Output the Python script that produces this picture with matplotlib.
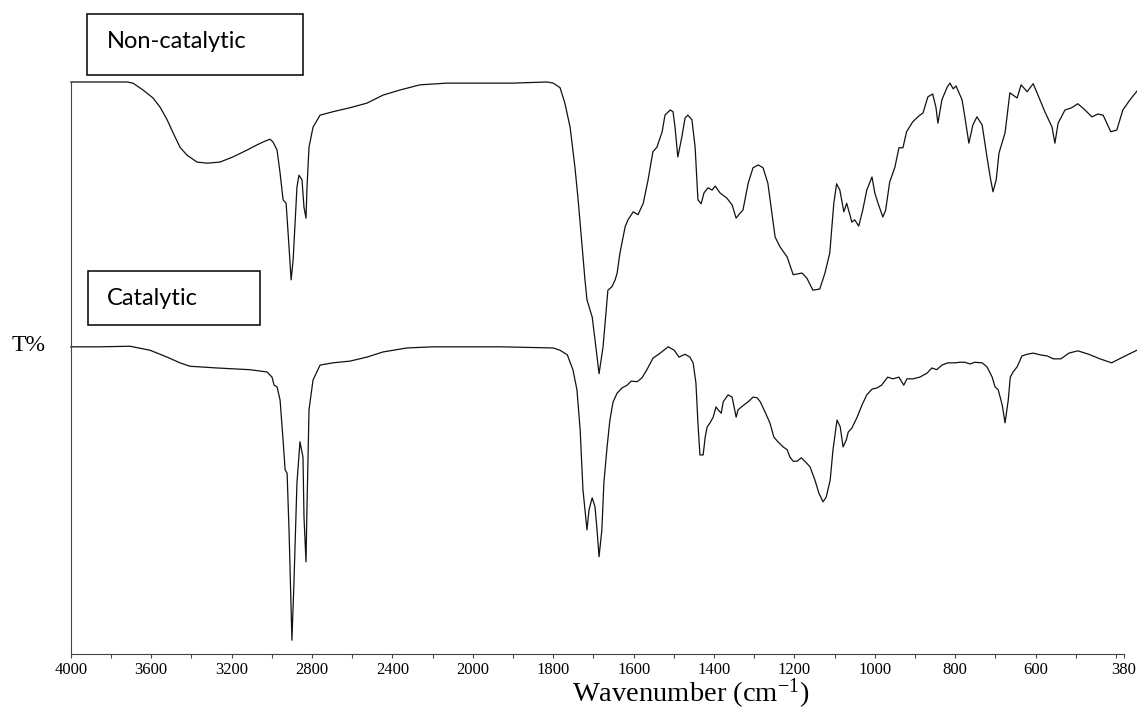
import numpy as np
import matplotlib
matplotlib.use('Agg')
import matplotlib.pyplot as plt
from matplotlib.patches import Rectangle

# FTIR spectra, transmittance in arbitrary % (axis has no y ticks)
noncat_wn = [4000, 3720, 3691, 3641, 3591, 3556, 3521, 3491, 3457, 3422, 3372, 3322, 3258, 3193,
             3123, 3074, 3044, 3009, 2994, 2974, 2959, 2944, 2929, 2919, 2904, 2894, 2875, 2865,
             2850, 2840, 2830, 2825, 2815, 2795, 2760, 2696, 2611, 2527, 2447, 2362, 2263, 2129,
             2015, 1900, 1815, 1800, 1783, 1771, 1758, 1746, 1738, 1728, 1721, 1716, 1703, 1696,
             1686, 1676, 1669, 1664, 1654, 1646, 1641, 1634, 1621, 1614, 1601, 1589, 1576, 1564,
             1552, 1542, 1529, 1522, 1509, 1502, 1497, 1490, 1480, 1472, 1465, 1455, 1447, 1440,
             1432, 1425, 1415, 1405, 1397, 1385, 1368, 1355, 1345, 1335, 1328, 1315, 1303, 1290,
             1278, 1266, 1248, 1236, 1218, 1203, 1181, 1169, 1154, 1137, 1124, 1112, 1102, 1095,
             1087, 1077, 1070, 1057, 1050, 1040, 1030, 1020, 1007, 1000, 992, 980, 973, 963,
             950, 940, 930, 921, 906, 893, 880, 868, 856, 848, 843, 833, 820, 813,
             805, 798, 783, 776, 766, 756, 746, 733, 721, 713, 706, 698, 691, 676,
             664, 646, 636, 621, 606, 594, 577, 559, 552, 544, 527, 510, 495, 477,
             460, 445, 432, 413, 398, 383, 365, 348]
noncat_t = [100.0, 100.0, 99.8, 98.6, 97.2, 95.6, 93.4, 91.1, 88.6, 87.2, 86.0, 85.8, 86.0, 86.9,
            88.1, 89.0, 89.5, 90.0, 89.5, 88.1, 84.1, 79.4, 78.8, 73.6, 65.4, 68.9, 81.6, 83.7,
            82.9, 78.1, 76.2, 81.6, 88.6, 92.1, 94.2, 94.8, 95.5, 96.3, 97.7, 98.6, 99.5, 99.8,
            99.8, 99.8, 100.0, 99.8, 99.0, 96.3, 92.1, 85.1, 79.4, 71.2, 65.4, 61.9, 58.9, 54.9,
            49.0, 53.7, 59.6, 63.6, 64.2, 65.4, 66.6, 70.1, 74.7, 75.9, 77.3, 76.8, 78.8, 82.9,
            87.8, 88.6, 91.3, 94.2, 95.1, 94.8, 92.1, 86.9, 90.4, 93.7, 94.2, 93.4, 88.6, 79.4,
            78.7, 80.6, 81.5, 81.1, 81.8, 80.6, 79.7, 78.5, 76.2, 77.1, 77.6, 82.3, 85.0, 85.5,
            85.0, 82.3, 72.9, 71.2, 69.4, 66.3, 66.6, 65.7, 63.6, 63.8, 66.6, 70.1, 78.8, 82.2,
            81.1, 77.3, 78.8, 75.5, 75.9, 74.8, 77.6, 81.1, 83.4, 80.6, 78.8, 76.4, 77.6, 82.5,
            85.1, 88.5, 88.5, 91.3, 93.0, 93.9, 94.6, 97.4, 97.9, 95.6, 92.8, 96.9, 99.1, 99.8,
            98.8, 99.3, 96.9, 93.9, 89.3, 92.5, 93.9, 92.5, 86.9, 83.4, 80.8, 82.9, 87.6, 91.1,
            98.1, 97.2, 99.5, 98.3, 99.7, 97.7, 94.8, 92.1, 89.3, 92.8, 95.1, 95.5, 96.2, 95.1,
            93.9, 94.4, 94.2, 91.3, 91.6, 95.1, 96.9, 98.4]

cat_wn = [4000, 3855, 3705, 3606, 3521, 3457, 3407, 3273, 3109, 3024, 2999, 2989, 2974, 2959,
          2944, 2934, 2924, 2914, 2900, 2890, 2875, 2860, 2845, 2840, 2830, 2825, 2815, 2795,
          2760, 2696, 2611, 2527, 2447, 2328, 2199, 2029, 1932, 1800, 1783, 1765, 1751, 1741,
          1733, 1726, 1716, 1711, 1703, 1696, 1691, 1686, 1679, 1674, 1666, 1659, 1651, 1641,
          1629, 1616, 1606, 1591, 1579, 1567, 1552, 1534, 1514, 1499, 1487, 1472, 1460, 1452,
          1445, 1440, 1435, 1427, 1422, 1417, 1410, 1402, 1395, 1390, 1382, 1377, 1365, 1355,
          1350, 1345, 1340, 1328, 1315, 1303, 1293, 1285, 1273, 1261, 1251, 1241, 1228, 1218,
          1211, 1203, 1193, 1183, 1174, 1161, 1149, 1139, 1129, 1121, 1111, 1104, 1094, 1086,
          1079, 1071, 1066, 1057, 1044, 1032, 1020, 1007, 995, 983, 968, 955, 940, 933,
          928, 920, 905, 888, 870, 858, 846, 833, 818, 801, 788, 776, 763, 751,
          733, 721, 708, 701, 693, 683, 676, 668, 663, 656, 646, 634, 621, 606,
          589, 571, 556, 537, 517, 495, 468, 440, 411, 383, 348]
cat_t = [53.7, 53.7, 53.8, 53.1, 51.9, 50.9, 50.3, 50.0, 49.7, 49.3, 48.4, 47.0, 46.7, 44.4,
         37.4, 32.2, 31.6, 21.2, 2.4, 12.4, 29.9, 37.1, 34.4, 24.0, 16.1, 25.7, 42.7, 47.9,
         50.5, 50.9, 51.2, 51.9, 52.8, 53.5, 53.7, 53.7, 53.7, 53.5, 53.1, 52.3, 49.7, 46.2,
         39.2, 28.7, 21.7, 25.2, 27.3, 25.7, 21.7, 17.0, 21.7, 29.9, 36.2, 40.9, 44.1, 45.6,
         46.5, 47.0, 47.7, 47.6, 48.3, 49.7, 51.7, 52.6, 53.7, 53.1, 51.9, 52.4, 51.9, 50.9,
         47.4, 40.4, 34.8, 34.8, 37.9, 39.7, 40.4, 41.4, 43.2, 42.7, 42.1, 44.1, 45.3, 44.9,
         43.2, 41.4, 42.7, 43.4, 44.1, 44.9, 44.8, 44.1, 42.3, 40.4, 37.9, 37.1, 36.2, 35.7,
         34.4, 33.7, 33.7, 34.3, 33.7, 32.7, 30.4, 28.1, 26.6, 27.4, 30.4, 35.7, 40.9, 39.7,
         36.2, 37.4, 38.8, 39.5, 41.4, 43.5, 45.3, 46.3, 46.5, 47.0, 48.4, 48.1, 48.4, 47.6,
         47.0, 48.1, 48.1, 48.4, 49.1, 50.0, 49.7, 50.5, 50.9, 50.9, 51.0, 51.0, 50.7, 51.0,
         50.9, 50.2, 48.4, 46.7, 46.2, 43.5, 40.4, 44.4, 48.4, 49.3, 50.2, 52.1, 52.4, 52.6,
         52.3, 52.1, 51.6, 51.6, 52.6, 53.0, 52.4, 51.6, 50.9, 51.9, 53.1]

major_ticks = [4000, 3600, 3200, 2800, 2400, 2000, 1800, 1600, 1400, 1200, 1000, 800, 600, 380]
minor_ticks = [3800, 3400, 3000, 2600, 2200, 1900, 1700, 1500, 1300, 1100, 900, 700, 500, 400]


def forward(w):
    # spectrometer axis: 4000-2000 drawn at half the scale of 2000-400
    w = np.asarray(w, dtype=float)
    return np.where(w >= 2000, (w - 2000) / 200, (w - 2000) / 100)


def inverse(p):
    p = np.asarray(p, dtype=float)
    return np.where(p >= 0, 2000 + 200 * p, 2000 + 100 * p)


plt.rcParams['mathtext.fontset'] = 'stix'
fig = plt.figure(figsize=(11.37, 7.11), dpi=100)
ax = fig.add_axes([0.0623, 0.0802, 0.9263, 0.8045])
ax.set_xscale('function', functions=(forward, inverse))

ax.plot(noncat_wn, noncat_t, color='#111111', lw=0.9, clip_on=False)
ax.plot(cat_wn, cat_t, color='#111111', lw=0.9, clip_on=False)

ax.set_xlim(4000, 380)
ax.set_ylim(0, 100)
ax.set_xticks(major_ticks)
ax.set_xticklabels([str(t) for t in major_ticks], family='Liberation Serif', fontsize=12)
ax.set_xticks(minor_ticks, minor=True)
ax.tick_params(axis='x', which='both', direction='out', length=3, width=0.8,
               color='#444444', pad=2.5)
ax.set_yticks([])
for side in ['top', 'right']:
    ax.spines[side].set_visible(False)
for side in ['left', 'bottom']:
    ax.spines[side].set_linewidth(0.8)
    ax.spines[side].set_color('#444444')

fig.text(0.608, 0.024, r'Wavenumber (cm$^{\mathregular{-1}}$)', family='Liberation Serif',
         fontsize=20.5, ha='center', va='center')
fig.text(0.0255, 0.514, 'T%', family='Liberation Serif', fontsize=17, ha='center', va='center')

fig.patches.append(Rectangle((0.0765, 0.8945), 0.19, 0.0858, transform=fig.transFigure,
                             fill=False, edgecolor='black', lw=1.1))
fig.text(0.0941, 0.941, 'Non-catalytic', family='Lato', fontsize=17, ha='left', va='center')
fig.patches.append(Rectangle((0.0774, 0.5429), 0.1513, 0.076, transform=fig.transFigure,
                             fill=False, edgecolor='black', lw=1.1))
fig.text(0.0941, 0.5795, 'Catalytic', family='Lato', fontsize=17, ha='left', va='center')

fig.savefig('out.png', dpi=100)
